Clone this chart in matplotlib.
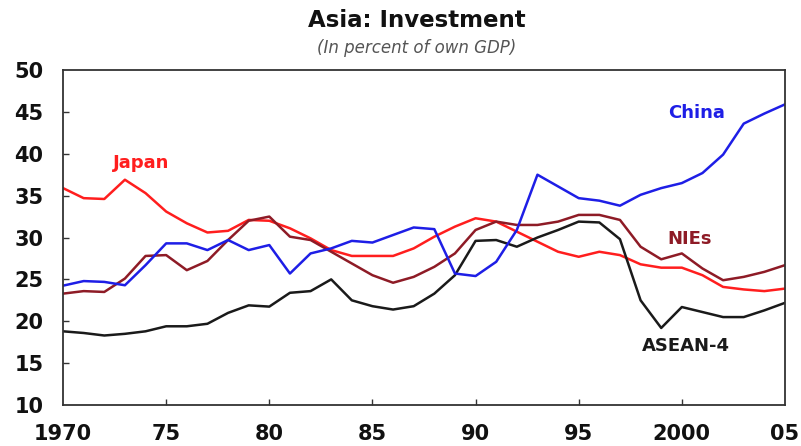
import matplotlib
matplotlib.use("Agg")
import matplotlib.pyplot as plt

years = list(range(1970, 2006))
japan = [35.9, 34.7, 34.6, 36.9, 35.3, 33.1, 31.7, 30.6, 30.8, 32.1, 32.0,
         31.1, 29.9, 28.5, 27.8, 27.8, 27.8, 28.7, 30.1, 31.3, 32.3, 31.9,
         30.7, 29.5, 28.3, 27.7, 28.3, 27.9, 26.8, 26.4, 26.4, 25.5, 24.1,
         23.8, 23.6, 23.9]
china = [24.25, 24.8, 24.7, 24.3, 26.7, 29.3, 29.3, 28.5, 29.7, 28.5, 29.1,
         25.7, 28.1, 28.7, 29.6, 29.4, 30.3, 31.2, 31.0, 25.7, 25.4, 27.1,
         30.9, 37.5, 36.1, 34.7, 34.4, 33.8, 35.1, 35.9, 36.5, 37.7, 39.9,
         43.6, 44.8, 45.9]
nies = [23.3, 23.6, 23.5, 25.1, 27.8, 27.9, 26.1, 27.2, 29.7, 32.0, 32.5,
        30.1, 29.7, 28.3, 26.9, 25.5, 24.6, 25.3, 26.5, 28.1, 30.9, 31.9,
        31.5, 31.5, 31.9, 32.7, 32.7, 32.1, 28.9, 27.4, 28.1, 26.3, 24.9,
        25.3, 25.9, 26.7]
asean4 = [18.8, 18.6, 18.3, 18.5, 18.8, 19.4, 19.4, 19.7, 21.0, 21.9, 21.75,
          23.4, 23.6, 25.0, 22.5, 21.8, 21.4, 21.8, 23.3, 25.5, 29.6, 29.7,
          28.9, 30.0, 30.9, 31.9, 31.8, 29.8, 22.5, 19.2, 21.7, 21.1, 20.5,
          20.5, 21.3, 22.2]

series_names = ["Japan", "China", "NIEs", "ASEAN-4"]
x_ticks = [1970, 1975, 1980, 1985, 1990, 1995, 2000, 2005]
x_tick_labels = ["1970", "75", "80", "85", "90", "95", "2000", "05"]
y_ticks = [10, 15, 20, 25, 30, 35, 40, 45, 50]

c_japan = "#FF1E1E"
c_china = "#1E1EE6"
c_nies = "#8E1B26"
c_asean = "#1A1A1A"

fig = plt.figure(figsize=(8.01, 4.46), dpi=100)
ax = fig.add_axes([0.0787, 0.0919, 0.9013, 0.7511])

lw = 1.8
ax.plot(years, japan, color=c_japan, lw=lw)
ax.plot(years, nies, color=c_nies, lw=lw)
ax.plot(years, asean4, color=c_asean, lw=lw)
ax.plot(years, china, color=c_china, lw=lw)

ax.set_xlim(1970, 2005)
ax.set_ylim(10, 50)
ax.set_xticks(x_ticks)
ax.set_xticklabels(x_tick_labels)
ax.set_yticks(y_ticks)
ax.tick_params(axis="both", direction="in", length=4, width=1, color="#333333",
               labelsize=15, pad=14)
ax.tick_params(axis="x", pad=14)
for lab in ax.get_xticklabels() + ax.get_yticklabels():
    lab.set_fontweight("bold")
    lab.set_color("#111111")
for t in (ax.xaxis.get_major_ticks()[0], ax.xaxis.get_major_ticks()[-1],
          ax.yaxis.get_major_ticks()[0], ax.yaxis.get_major_ticks()[-1]):
    t.tick1line.set_visible(False)

for s in ax.spines.values():
    s.set_color("#333333")
    s.set_linewidth(1.3)

lab_kw = dict(fontsize=13, fontweight="bold", transform=ax.transData)
ax.text(1973.8, 38.9, series_names[0], color=c_japan, ha="center", va="center", **lab_kw)
ax.text(2000.7, 44.9, series_names[1], color=c_china, ha="center", va="center", **lab_kw)
ax.text(2000.4, 29.8, series_names[2], color=c_nies, ha="center", va="center", **lab_kw)
ax.text(2000.2, 17.0, series_names[3], color=c_asean, ha="center", va="center", **lab_kw)

fig.text(0.52, 0.955, "Asia: Investment", ha="center", va="center",
         fontsize=16.5, fontweight="bold", color="#111111")
fig.text(0.52, 0.893, "(In percent of own GDP)", ha="center", va="center",
         fontsize=12, fontstyle="italic", color="#555555")

fig.savefig("out.png", dpi=100)
